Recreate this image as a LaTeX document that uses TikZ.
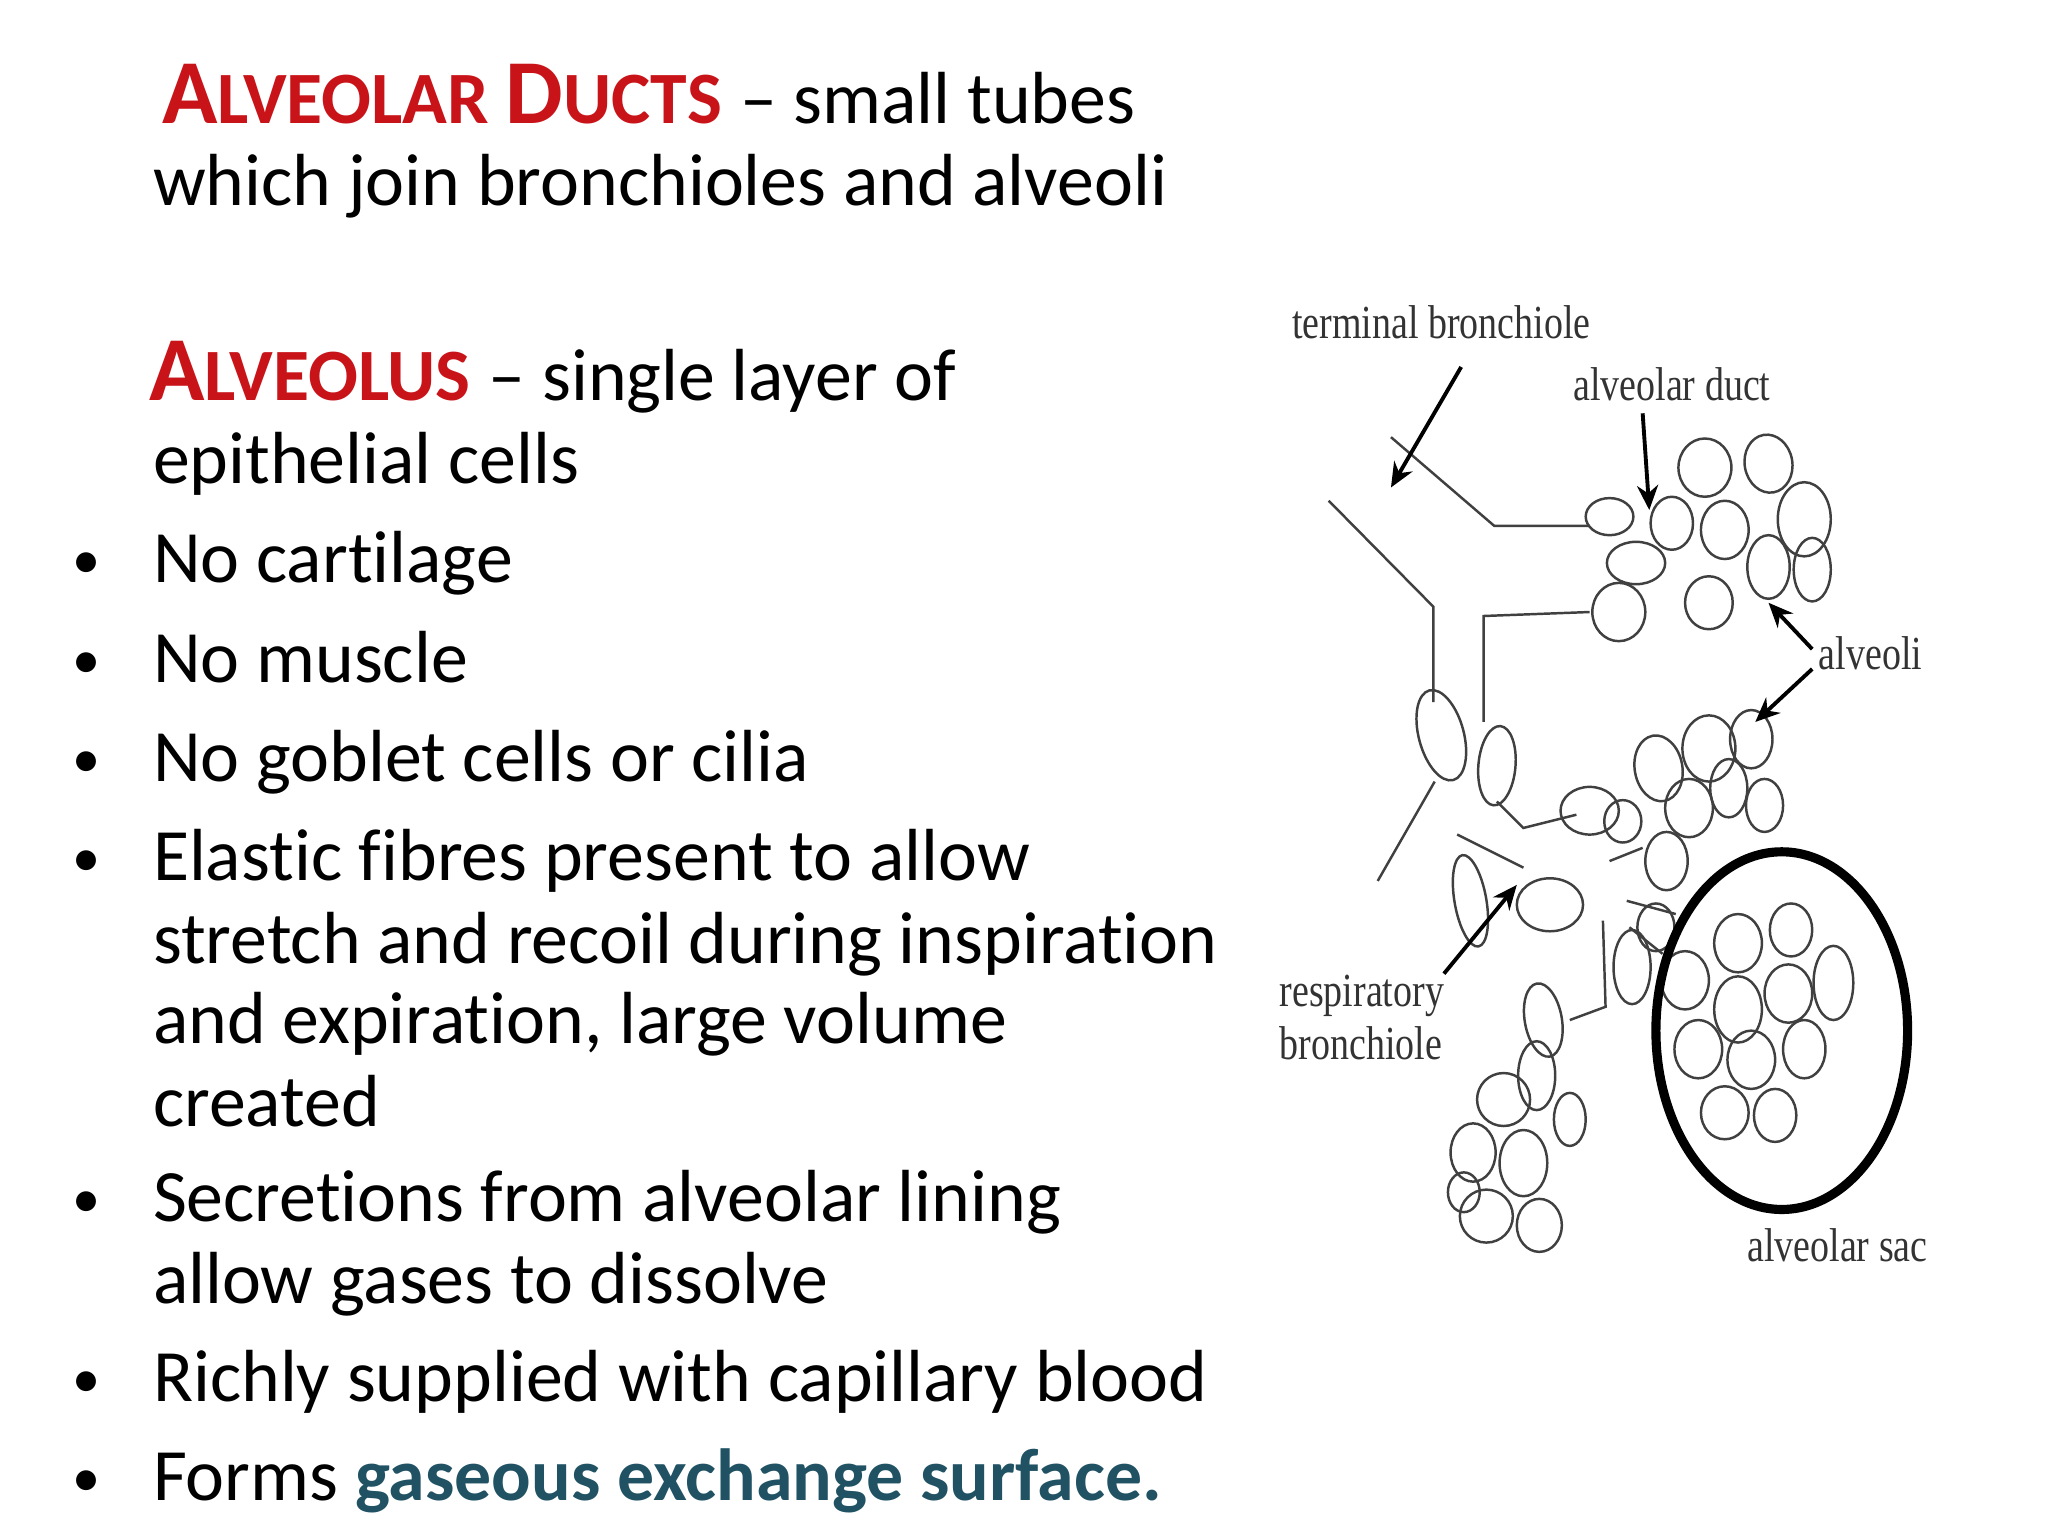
\documentclass[tikz,border=0pt]{standalone}
\usepackage{fontspec}
\setmainfont[RawFeature=-liga]{Carlito}
\newfontfamily\lab{Liberation Serif}
\usetikzlibrary{arrows.meta}
\definecolor{tred}{RGB}{200,20,25}
\definecolor{teal2}{RGB}{32,82,100}
\tikzset{
 txt/.style={anchor=base west,inner sep=0pt,font=\fontsize{21pt}{26pt}\selectfont},
 ttl/.style={anchor=base west,inner sep=0pt,text=tred,font=\fontsize{26pt}{30pt}\selectfont\bfseries},
 bul/.style={anchor=base,inner sep=0pt,font=\fontsize{16pt}{26pt}\selectfont},
 lbl/.style={inner sep=1pt,text=black!80,font=\lab\fontsize{13.5pt}{15pt}\selectfont,xscale=0.8},
 cell/.style={draw=black!75,line width=0.7pt},
 tube/.style={draw=black!75,line width=0.7pt},
 arr/.style={-{Stealth[length=7pt,width=6pt]},line width=1.1pt}
}
\begin{document}
\begin{tikzpicture}[x=0.01325cm,y=-0.01325cm]
\path[use as bounding box] (0,0) rectangle (1546,1160);
% text
\node[ttl] (t1) at (122,93) {A\fontsize{21pt}{26pt}\selectfont LVEOLAR \fontsize{26pt}{30pt}\selectfont D\fontsize{21pt}{26pt}\selectfont UCTS};
\node[txt] (t1b) at (t1.base east) {\ – small tubes};
\node[txt] (t2) at (115,155) {which join bronchioles and alveoli};
\node[ttl] (t3) at (112,302) {A\fontsize{21pt}{26pt}\selectfont LVEOLUS};
\node[txt] (t3b) at (t3.base east) {\ – single layer of};
\node[txt] (t4) at (115,365) {epithelial cells};
\foreach \y/\t/\n in {440/No cartilage/b1,515/No muscle/b2,590/No goblet cells or cilia/b3,665/Elastic fibres present to allow/b4,922/Secretions from alveolar lining/b5,1058/Richly supplied with capillary blood/b6}{
  \node[bul] at (65,\y-3) {•};
  \node[txt] (\n) at (115,\y) {\t};
}
\node[txt] (c1) at (115,727) {stretch and recoil during inspiration};
\node[txt] (c2) at (115,788) {and expiration, large volume};
\node[txt] (c3) at (115,850) {created};
\node[txt] (c4) at (115,984) {allow gases to dissolve};
\node[bul] at (65,1130) {•};
\node[txt] (b7) at (115,1133) {Forms \textcolor{teal2}{\bfseries gaseous exchange surface.}};
% diagram labels
\node[lbl] (lt) at (1088,243) {terminal bronchiole};
\node[lbl] (ld) at (1262,290) {alveolar duct};
\node[lbl] (la) at (1412,493) {alveoli};
\node[lbl,align=left] (lr) at (1028,768) {respiratory\\bronchiole};
\node[lbl] (ls) at (1387,940) {alveolar sac};
% tubes
\draw[tube] (1003,378) -- (1082,458) -- (1082,530);
\draw[tube] (1050,330) -- (1128,397) -- (1200,397);
\draw[tube] (1200,462) -- (1120,465) -- (1120,545);
\draw[tube] (1083,590) -- (1040,665);
\draw[tube] (1100,630) -- (1150,655);
\draw[tube] (1130,605) -- (1150,625) -- (1190,615);
\draw[tube] (1210,695) -- (1212,760) -- (1185,770);
\draw[tube] (1228,680) -- (1265,690);
\draw[tube] (1230,700) -- (1255,720);
\draw[tube] (1215,650) -- (1240,640);
% cells
\foreach \x/\y/\a/\b/\r in {
1287/353/20/22/0,1335/350/18/22/10,1362/392/20/28/0,1302/400/18/22/0,1235/425/22/16/0,1215/390/18/14/0,
1290/455/18/20/0,1335/428/16/24/0,1222/462/20/22/0,1368/430/14/24/0,1262/395/16/20/0,
1088/555/17/35/15,1130/578/14/30/-5,1200/612/22/18/0,1252/580/18/25/10,1290/565/20/25/0,1322/558/16/22/0,
1275/610/18/22/0,1305/595/14/22/0,1258/650/16/22/0,1332/608/14/20/0,1225/620/14/16/0,
1110/680/12/35/10,1170/683/25/20/0,1232/730/14/28/0,1165/770/14/28/10,1160/812/14/26/0,1135/830/20/20/0,
1112/870/17/22/0,1150/878/18/25/0,1122/918/20/20/0,1162/925/17/20/0,1105/900/12/15/0,1185/845/12/20/0,
1312/712/18/22/0,1352/702/16/20/0,1384/742/15/28/0,1272/740/18/22/0,1312/762/18/25/0,1350/750/18/22/0,
1282/792/18/22/0,1322/800/18/22/0,1362/792/16/22/0,1302/840/18/20/0,1340/842/16/20/0,1250/700/14/18/0}
  \draw[cell,rotate around={\r:(\x,\y)}] (\x,\y) ellipse [x radius=\a,y radius=\b];
\draw[line width=2.6pt] (1345,778) ellipse [x radius=95,y radius=135];
% arrows
\draw[arr] (1103,277) -- (1050,368);
\draw[arr] (1240,312) -- (1245,385);
\draw[arr] (1368,490) -- (1335,455);
\draw[arr] (1368,505) -- (1325,545);
\draw[arr] (1090,735) -- (1145,668);
\end{tikzpicture}
\end{document}
